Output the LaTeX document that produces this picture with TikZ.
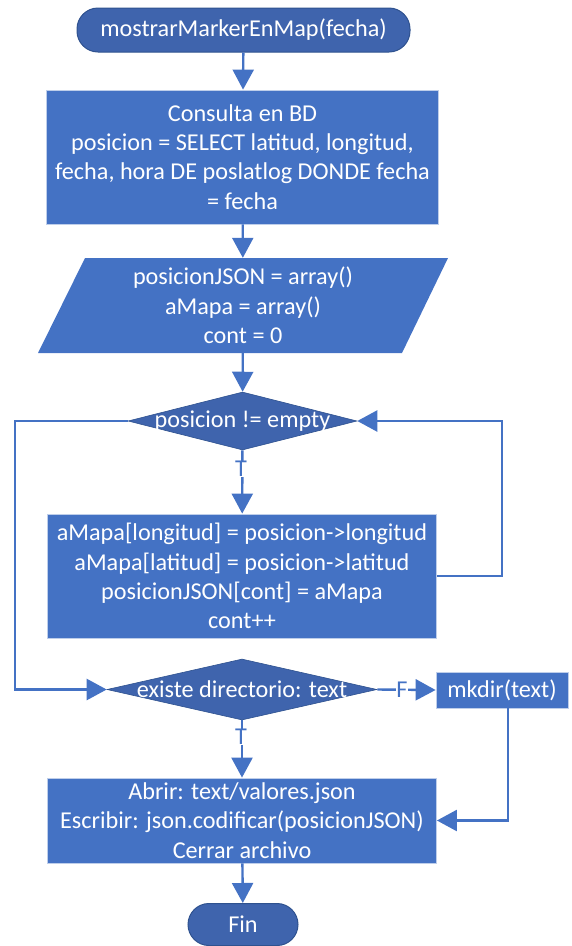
\documentclass[tikz,border=0pt]{standalone}
\usepackage{fontspec}
\setmainfont{Carlito}
\usetikzlibrary{shapes.geometric,arrows.meta}
\definecolor{boxblue}{HTML}{4472C4}
\definecolor{darkblue}{HTML}{3F64AD}
\definecolor{edgeblue}{HTML}{2F528F}
\begin{document}
\begin{tikzpicture}[x=1pt,y=-1pt,
  txt/.style={font=\fontsize{24.2}{29.3}\selectfont, text=white, align=center, inner sep=0pt},
  procbox/.style={txt, rectangle, fill=boxblue, draw=white!65!boxblue, line width=0.8pt},
  term/.style={txt, rectangle, rounded corners=21pt, fill=darkblue, draw=edgeblue, line width=1pt},
  decision/.style={txt, diamond, fill=darkblue, draw=edgeblue, line width=0.6pt},
  flow/.style={draw=boxblue, line width=2.4pt, -{Triangle[length=20pt,width=21pt]}},
  branch/.style={font=\fontsize{24.2}{29.3}\selectfont, text=boxblue, fill=white, inner xsep=0.5pt, inner ysep=0pt}]
\useasboundingbox (0,0) rectangle (571,946);

% terminators and process boxes
\node[term, minimum width=333pt, minimum height=44pt] (start) at (243.5,30) {mostrarMarkerEnMap(fecha)};
\node[procbox, minimum width=392pt, minimum height=134pt] (query) at (242.5,157)
  {Consulta en BD\\posicion = SELECT latitud, longitud,\\fecha, hora DE poslatlog DONDE fecha\\= fecha};

% input/initialisation parallelogram
\fill[boxblue] (85,258) -- (448,258) -- (402,353) -- (38,353) -- cycle;
\node[txt, minimum width=317pt, minimum height=95pt] (init) at (243,305.5)
  {posicionJSON = array()\\aMapa = array()\\cont = 0};

% loop condition
\node[decision, minimum width=229pt, minimum height=58pt] (cond) at (242.5,421) {};
\node[txt] (condtext) at (cond.center) {posicion != empty};

\node[procbox, minimum width=389pt, minimum height=124pt] (body) at (242,576)
  {aMapa[longitud] = posicion->longitud\\aMapa[latitud] = posicion->latitud\\posicionJSON[cont] = aMapa\\cont++};

% directory check
\node[decision, minimum width=270pt, minimum height=61pt] (dir) at (242,689.5) {};
\node[txt] (dirtext) at (dir.center) {existe directorio: text};
\node[procbox, minimum width=132pt, minimum height=36pt] (mk) at (502,690) {mkdir(text)};

\node[procbox, minimum width=389pt, minimum height=85pt] (write) at (242,820.5)
  {Abrir: text/valores.json\\Escribir: json.codificar(posicionJSON)\\Cerrar archivo};
\node[term, minimum width=110pt, minimum height=42pt] (fin) at (243,924.5) {Fin};

% loop exit / loop return points
\coordinate (lt) at (15,421);
\coordinate (lb) at (15,689.5);
\coordinate (rb) at (502,576);
\coordinate (rt) at (502,421);
\coordinate (mb) at (508,820.5);

% connectors
\draw[flow] (start) -- (query);
\draw[flow] (query) -- (init);
\draw[flow] (init) -- (cond);
\draw[flow] (cond) -- (body);
\draw[flow] (body.east) -- (rb) -- (rt) -- (cond.east);
\draw[flow] (cond.west) -- (lt) -- (lb) -- (dir.west);
\draw[flow] (dir.east) -- (mk.west);
\draw[flow] (dir) -- (write);
\draw[flow] (mk.south -| mb) -- (mb) -- (write.east);
\draw[flow] (write) -- (fin);

% branch labels
\node[branch] (t1) at (241,469) {T};
\node[branch] (t2) at (241,737) {T};
\node[branch] (f1) at (402,689.5) {F};
\end{tikzpicture}
\end{document}
